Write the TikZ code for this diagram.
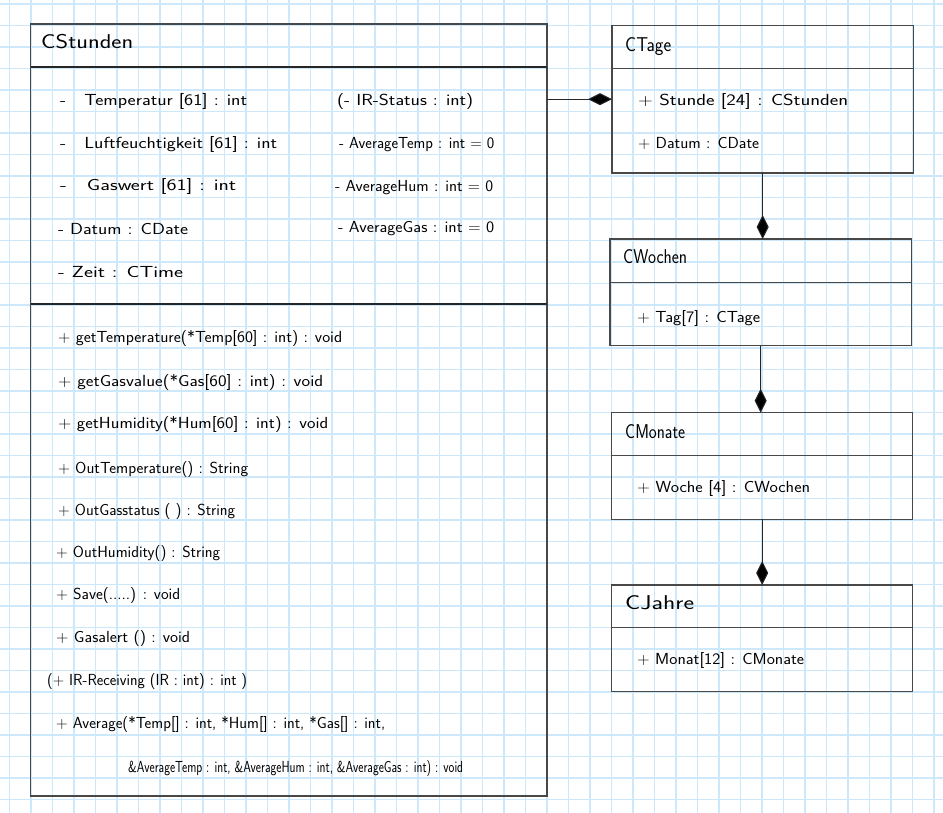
\documentclass[tikz,border=0pt]{standalone}
\usepackage{fontspec}
\usepackage{graphicx}
\usetikzlibrary{arrows.meta}
\definecolor{gridblue}{RGB}{206,232,251}
\definecolor{boxline}{RGB}{72,72,72}
\newcommand{\fw}[2]{\resizebox{#1pt}{\height}{#2}}
\tikzset{
  gridline/.style={gridblue, line width=1.4pt},
  classbox/.style={draw=boxline, line width=1.5pt, inner sep=0pt, outer sep=0pt, rectangle},
  sepline/.style={draw=boxline, line width=1.5pt},
  thicksep/.style={draw=black!85, line width=2pt},
  ctitle/.style={anchor=mid west, inner sep=0pt, font=\sffamily\fontsize{20}{22}\selectfont},
  member/.style={anchor=mid west, inner sep=0pt, font=\sffamily\fontsize{16}{18}\selectfont},
  comp/.style={draw=black!85, line width=1pt, -{Diamond[length=24pt,width=12pt,fill=black]}},
}
\begin{document}
\begin{tikzpicture}[x=1pt,y=-1pt]
\useasboundingbox (0,0) rectangle (943,813);
\fill[white] (0,0) rectangle (943,813);
% grid paper
\foreach \i in {0,...,43} \draw[gridline] ({9.3+21.5*\i},0) -- ({9.3+21.5*\i},813);
\foreach \j in {0,...,37} \draw[gridline] (0,{4+21.5*\j}) -- (943,{4+21.5*\j});

% class boxes
\node[classbox, minimum width=516.5pt, minimum height=772pt] (stunden) at (288.75,410) {};
\node[classbox, minimum width=301.3pt, minimum height=147.7pt] (tage) at (762.65,99.15) {};
\node[classbox, minimum width=301.3pt, minimum height=106.7pt] (wochen) at (760.65,292.35) {};
\node[classbox, minimum width=301pt, minimum height=106.6pt] (monate) at (762.2,466) {};
\node[classbox, minimum width=301pt, minimum height=106.7pt] (jahre) at (762.2,638.35) {};

% separators
\draw[thicksep] (stunden.west |- 0,67) -- (stunden.east |- 0,67);
\draw[thicksep] (stunden.west |- 0,304) -- (stunden.east |- 0,304);
\draw[sepline] (tage.west |- 0,68.7) -- (tage.east |- 0,68.7);
\draw[sepline] (wochen.west |- 0,282.3) -- (wochen.east |- 0,282.3);
\draw[sepline] (monate.west |- 0,455.7) -- (monate.east |- 0,455.7);
\draw[sepline] (jahre.west |- 0,627.3) -- (jahre.east |- 0,627.3);

% titles
\node[ctitle] (tStunden) at (41,46) {\fw{92}{CStunden}};
\node[ctitle] (tTage) at (625,49) {\fw{46}{CTage}};
\node[ctitle] (tWochen) at (623,261) {\fw{64}{CWochen}};
\node[ctitle] (tMonate) at (625,436) {\fw{60}{CMonate}};
\node[ctitle] (tJahre) at (625,607) {\fw{69}{CJahre}};

% CStunden attributes
\node[member] (a1) at (60,103) {\fw{187}{-~~~Temperatur [61] : int}};
\node[member] (a2) at (60,146) {\fw{217}{-~~~Luftfeuchtigkeit [61] : int}};
\node[member] (a3) at (60,188) {\fw{176}{-~~~Gaswert [61] : int}};
\node[member] (a4) at (58,232) {\fw{130}{- Datum : CDate}};
\node[member] (a5) at (58,275) {\fw{125}{- Zeit : CTime}};
\node[member] (a6) at (337,103) {\fw{136}{(- IR-Status : int)}};
\node[member] (a7) at (339,146) {\fw{155}{- AverageTemp : int = 0}};
\node[member] (a8) at (335,189) {\fw{158}{- AverageHum : int = 0}};
\node[member] (a9) at (338,230) {\fw{156}{- AverageGas : int = 0}};

% CStunden methods
\node[member] (m1) at (58,340) {\fw{284}{+ getTemperature(*Temp[60] : int) : void}};
\node[member] (m2) at (58,384) {\fw{265}{+ getGasvalue(*Gas[60] : int) : void}};
\node[member] (m3) at (58,426) {\fw{270}{+ getHumidity(*Hum[60] : int) : void}};
\node[member] (m4) at (58,471) {\fw{190}{+ OutTemperature() : String}};
\node[member] (m5) at (58,513) {\fw{177}{+ OutGasstatus ( ) : String}};
\node[member] (m6) at (56,555) {\fw{164}{+ OutHumidity() : String}};
\node[member] (m7) at (56,597) {\fw{124}{+ Save(.....) : void}};
\node[member] (m8) at (56,640) {\fw{134}{+ Gasalert () : void}};
\node[member] (m9) at (47,683) {\fw{200}{(+ IR-Receiving (IR : int) : int )}};
\node[member] (m10) at (56,726) {\fw{329}{+ Average(*Temp[] : int, *Hum[] : int, *Gas[] : int,}};
\node[member] (m11) at (128,770) {\fw{335}{\&AverageTemp : int, \&AverageHum : int, \&AverageGas : int) : void}};

% other class members
\node[member] (b1) at (638,103) {\fw{210}{+ Stunde [24] : CStunden}};
\node[member] (b2) at (638,146) {\fw{121}{+ Datum : CDate}};
\node[member] (c1) at (637,320) {\fw{123}{+ Tag[7] : CTage}};
\node[member] (d1) at (637,490) {\fw{173}{+ Woche [4] : CWochen}};
\node[member] (e1) at (637,662) {\fw{167}{+ Monat[12] : CMonate}};

% composition connectors
\draw[comp] (stunden.east |- tage.west) -- (tage.west);
\draw[comp] (tage.south) -- (tage.south |- wochen.north);
\draw[comp] (wochen.south) -- (wochen.south |- monate.north);
\draw[comp] (monate.south) -- (monate.south |- jahre.north);
\end{tikzpicture}
\end{document}
